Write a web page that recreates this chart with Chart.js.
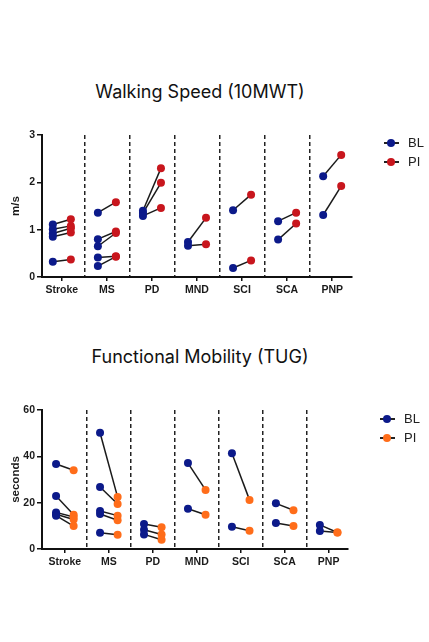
<!DOCTYPE html>
<html>
<head>
<meta charset="utf-8">
<script src="https://cdn.jsdelivr.net/npm/chart.js@4.4.1/dist/chart.umd.min.js"></script>
<style>
  html, body { margin: 0; padding: 0; background: #fff; }
  body { width: 429px; height: 642px; position: relative; overflow: hidden; font-family: "Liberation Sans", Arial, sans-serif; }
  .title { position: absolute; left: 0; width: 400px; text-align: center; font-family: Inter, "Open Sans", sans-serif; font-size: 18px; color: #111; }
  .box { position: absolute; left: 0; width: 429px; }
  .legend { position: absolute; font-size: 13px; color: #222; }
  .legend div { position: relative; height: 19px; line-height: 19px; padding-left: 24px; }
  .legend div::before { content: ""; position: absolute; left: 0; top: 9px; width: 15px; height: 1.5px; background: #222; }
  .legend div::after { content: ""; position: absolute; left: 3px; top: 6px; width: 8px; height: 8px; border-radius: 50%; background: var(--c); }
</style>
</head>
<body>
<div class="title" style="top:81px">Walking Speed (10MWT)</div>
<div class="box" style="top:125px;height:180px"><canvas id="speedChart"></canvas></div>
<div class="legend" style="left:384px;top:133px">
  <div style="--c:#0c1a8a">BL</div>
  <div style="--c:#c8161d">PI</div>
</div>

<div class="title" style="top:346px">Functional Mobility (TUG)</div>
<div class="box" style="top:400px;height:180px"><canvas id="tugChart"></canvas></div>
<div class="legend" style="left:380px;top:409px">
  <div style="--c:#0c1a8a">BL</div>
  <div style="--c:#ff6d1a">PI</div>
</div>

<script>
// Data
const groups = ['Stroke', 'MS', 'PD', 'MND', 'SCI', 'SCA', 'PNP'];

// 10MWT walking speed (m/s), one pair per subject
const speedBL = [
    [1.11, 1.01, 0.92, 0.85, 0.32],
    [1.36, 0.80, 0.65, 0.41, 0.23],
    [1.40, 1.35, 1.29],
    [0.74, 0.66],
    [1.41, 0.19],
    [1.18, 0.79],
    [2.13, 1.31]
];
const speedPI = [
    [1.22, 1.08, 1.03, 0.94, 0.37],
    [1.58, 0.96, 0.93, 0.44, 0.43],
    [2.30, 1.99, 1.46],
    [1.25, 0.69],
    [1.74, 0.35],
    [1.36, 1.13],
    [2.58, 1.92]
];
const speedTicks = [0, 1, 2, 3];

// TUG time (seconds)
const tugBL = [
    [36.7, 22.9, 15.8, 15.0, 14.4],
    [50.2, 26.8, 16.4, 15.1, 7.0],
    [10.8, 8.3, 6.3],
    [37.1, 17.4],
    [41.3, 9.6],
    [19.7, 11.2],
    [10.4, 7.8]
];
const tugPI = [
    [34.0, 14.8, 13.8, 12.7, 9.9],
    [22.4, 19.4, 14.4, 12.4, 6.2],
    [9.4, 6.3, 4.0],
    [25.5, 14.8],
    [21.2, 7.9],
    [16.7, 9.9],
    [7.1, 7.1]
];
const tugTicks = [0, 20, 40, 60];

const BL_COLOR = '#0c1a8a';
const PI_SPEED_COLOR = '#c8161d';
const PI_TUG_COLOR = '#ff6d1a';
const SHIFT = 0.2;

// Build scatter datasets: one line per subject, plus BL and PI point sets
function buildDatasets(bl, pi, piColor) {
    const sets = [];
    const blPts = [];
    const piPts = [];
    bl.forEach((vals, g) => {
        vals.forEach((v, k) => {
            const a = { x: g - SHIFT, y: v };
            const b = { x: g + SHIFT, y: pi[g][k] };
            blPts.push(a);
            piPts.push(b);
            sets.push({
                data: [a, b],
                showLine: true,
                borderColor: '#1a1a1a',
                borderWidth: 1.5,
                pointRadius: 0,
                order: 3
            });
        });
    });
    sets.push({ label: 'BL', data: blPts, backgroundColor: BL_COLOR, borderColor: BL_COLOR, pointRadius: 4, borderWidth: 0, order: 1 });
    sets.push({ label: 'PI', data: piPts, backgroundColor: piColor, borderColor: piColor, pointRadius: 4, borderWidth: 0, order: 2 });
    return sets;
}

const tickFont = { family: '"Liberation Sans", Arial, sans-serif', size: 10.5, weight: 'bold' };
const titleFont = { family: '"Liberation Sans", Arial, sans-serif', size: 11.5, weight: 'bold' };

function makeChart(id, bl, pi, piColor, yTicks, yTitle, xMin, xMax, pad) {
    const yMax = yTicks[yTicks.length - 1];
    return new Chart(document.getElementById(id), {
        type: 'scatter',
        data: { datasets: buildDatasets(bl, pi, piColor) },
        options: {
            responsive: true,
            maintainAspectRatio: false,
            animation: false,
            layout: { padding: pad },
            plugins: { legend: { display: false }, tooltip: { enabled: false } },
            scales: {
                x: {
                    type: 'linear',
                    min: xMin,
                    max: xMax,
                    afterBuildTicks: s => { s.ticks = groups.map((_, i) => ({ value: i })); },
                    afterFit: s => { s.height = 24; },
                    ticks: { callback: v => groups[v], color: '#1a1a1a', font: tickFont, padding: 3, autoSkip: false, maxRotation: 0 },
                    grid: { drawOnChartArea: false, drawTicks: true, tickLength: 4, color: '#111', lineWidth: 1.5 },
                    border: { color: '#111', width: 2 }
                },
                // helper axis: its grid lines are the dashed group separators
                sep: {
                    type: 'linear',
                    position: 'bottom',
                    min: xMin,
                    max: xMax,
                    afterBuildTicks: s => { s.ticks = groups.slice(1).map((_, i) => ({ value: i + 0.5 })); },
                    afterFit: s => { s.height = 0; },
                    ticks: { display: false },
                    grid: { drawTicks: false, color: '#222', lineWidth: 1.5 },
                    border: { display: false, dash: [4, 3] }
                },
                y: {
                    min: 0,
                    max: yMax,
                    afterBuildTicks: s => { s.ticks = yTicks.map(v => ({ value: v })); },
                    afterFit: s => { s.width = 33; },
                    ticks: { color: '#1a1a1a', font: tickFont, padding: 2 },
                    grid: { drawOnChartArea: false, tickLength: 5, color: '#111', lineWidth: 1.5 },
                    border: { color: '#111', width: 2 },
                    title: { display: true, text: yTitle, color: '#1a1a1a', font: titleFont, padding: { top: 0, bottom: 0 } }
                }
            }
        }
    });
}

makeChart('speedChart', speedBL, speedPI, PI_SPEED_COLOR, speedTicks, 'm/s', -0.44, 6.44,
    { left: 9, right: 77, top: 10, bottom: 4 });
makeChart('tugChart', tugBL, tugPI, PI_TUG_COLOR, tugTicks, 'seconds', -0.52, 6.44,
    { left: 9, right: 81, top: 10, bottom: 7 });
</script>
</body>
</html>
